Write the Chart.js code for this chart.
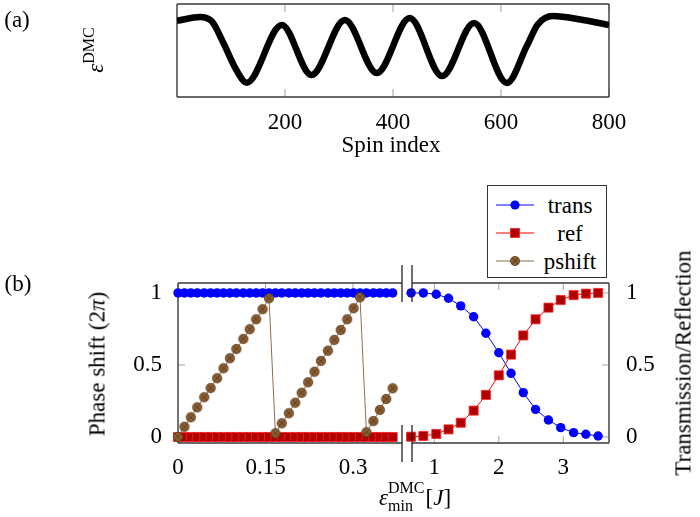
<!DOCTYPE html>
<html>
<head>
<meta charset="utf-8">
<script src="https://cdn.jsdelivr.net/npm/chart.js@4.4.1/dist/chart.umd.min.js"></script>
<style>
  body { margin: 0; background: #fff; }
  #wrap { position: relative; width: 700px; height: 517px; background: #fff; overflow: hidden; }
  #wrap canvas { position: absolute; left: 0; top: 0; }
  .t { position: absolute; transform: translate(-50%, -50%); white-space: nowrap;
       font-family: 'Liberation Serif', 'DejaVu Serif', 'Noto Serif', 'Times New Roman', serif;
       font-size: 23px; color: #000; line-height: 1; }
  .rot { transform: translate(-50%, -50%) rotate(-90deg); }
  .sup { font-size: 16px; position: relative; top: -9px; }
  .stack { display: inline-flex; flex-direction: column; font-size: 16px; line-height: 18px;
           vertical-align: middle; position: relative; top: -3px; margin-right: 1px; }
  #legend { position: absolute; left: 487px; top: 185px; width: 120px; height: 93px;
            border: 1.3px solid #333; background: #fff; box-sizing: border-box; }
  .row { position: absolute; left: 0; width: 120px; height: 28px; }
  .row svg { position: absolute; left: 7px; top: 4px; }
  .row span { position: absolute; left: 52px; width: 60px; text-align: center; top: 2px;
              font-family: 'Liberation Serif', 'DejaVu Serif', 'Noto Serif', 'Times New Roman', serif;
              font-size: 23px; }
</style>
</head>
<body>
<div id="wrap">
  <canvas id="chartA" width="700" height="517"></canvas>
  <canvas id="chartBL" width="700" height="517"></canvas>
  <canvas id="chartBR" width="700" height="517"></canvas>

  <div class="t" style="left:17px;top:19px">(a)</div>
  <div class="t rot" style="left:95px;top:50px"><i>ε</i><span class="sup">DMC</span></div>
  <div class="t" style="left:391px;top:144px">Spin index</div>

  <div class="t" style="left:18px;top:283px">(b)</div>
  <div class="t rot" style="left:97px;top:364px">Phase shift (2<i>π</i>)</div>
  <div class="t rot" style="left:683px;top:363px">Transmission/Reflection</div>
  <div class="t" style="left:415px;top:500px"><i>ε</i><span class="stack"><span>DMC</span><span>min</span></span>[<i>J</i>]</div>

  <div id="legend">
    <div class="row" style="top:5px">
      <svg width="40" height="20"><line x1="1" y1="10" x2="39" y2="10" stroke="#0000ff" stroke-width="1.2"/><circle cx="20" cy="10" r="4.6" fill="#0000ff"/></svg>
      <span>trans</span>
    </div>
    <div class="row" style="top:33px">
      <svg width="40" height="20"><line x1="1" y1="10" x2="39" y2="10" stroke="#ff0000" stroke-width="1.2"/><rect x="15.5" y="5.5" width="9" height="9" fill="#b00000" stroke="#ff2020" stroke-width="0.8"/></svg>
      <span>ref</span>
    </div>
    <div class="row" style="top:61px">
      <svg width="40" height="20"><line x1="1" y1="10" x2="39" y2="10" stroke="#8b6d4c" stroke-width="1.2"/><circle cx="20" cy="10" r="4.6" fill="#8a5d33" stroke="#5a3b1c" stroke-width="0.8"/><path d="M16.8 6.8 L23.2 13.2 M23.2 6.8 L16.8 13.2" stroke="#5a3b1c" stroke-width="0.8"/></svg>
      <span>pshift</span>
    </div>
  </div>
</div>

<script>
// panel (a): DMC profile along the chain
const spinIndex = [0, 43, 65, 86, 110, 129, 194, 249, 311, 370, 431, 491, 550, 611, 648, 668, 696, 752, 800];
const epsDmc    = [0.82, 0.86, 0.81, 0.58, 0.29, 0.154, 0.774, 0.237, 0.828, 0.258, 0.849, 0.226, 0.796, 0.151, 0.55, 0.78, 0.871, 0.828, 0.774];
const spinTicks = [200, 400, 600, 800];

// panel (b), left part (small eps)
const epsLeft = [0, 0.011, 0.022, 0.033, 0.045, 0.056, 0.067, 0.078, 0.089, 0.100, 0.112, 0.123,
  0.134, 0.145, 0.156, 0.167, 0.178, 0.190, 0.201, 0.212, 0.223, 0.234, 0.245, 0.257, 0.268,
  0.279, 0.290, 0.301, 0.312, 0.323, 0.335, 0.346, 0.357, 0.368];
const transLeft = [1, 1, 1, 1, 1, 1, 1, 1, 1, 1, 1, 1, 1, 1, 1, 1, 1, 1, 1, 1, 1, 1, 1, 1, 1, 1, 1, 1, 1, 1, 1, 1, 1, 1];
const refLeft   = [0, 0, 0, 0, 0, 0, 0, 0, 0, 0, 0, 0, 0, 0, 0, 0, 0, 0, 0, 0, 0, 0, 0, 0, 0, 0, 0, 0, 0, 0, 0, 0, 0, 0];
const pshift = [0, 0.071, 0.137, 0.206, 0.276, 0.340, 0.408, 0.477, 0.547, 0.611, 0.681, 0.748,
  0.817, 0.887, 0.963, 0.026, 0.095, 0.165, 0.238, 0.307, 0.380, 0.453, 0.528, 0.599, 0.674,
  0.743, 0.817, 0.894, 0.970, 0.033, 0.111, 0.188, 0.264, 0.338];
const epsLeftTicks = [0, 0.15, 0.3];

// panel (b), right part (large eps)
const epsRight   = [0.64, 0.83, 1.03, 1.22, 1.41, 1.61, 1.80, 2.00, 2.19, 2.38, 2.57, 2.77, 2.96, 3.16, 3.35, 3.54];
const transRight = [1.0, 1.0, 0.991, 0.963, 0.910, 0.835, 0.72, 0.585, 0.442, 0.308, 0.192, 0.118, 0.065, 0.030, 0.019, 0.007];
const refRight   = [0.002, 0.007, 0.021, 0.053, 0.099, 0.183, 0.292, 0.428, 0.572, 0.705, 0.817, 0.898, 0.951, 0.985, 0.995, 1.0];
const epsRightTicks = [1, 2, 3];
const yTicks = [0, 0.5, 1];

const tickFont = { family: "'Liberation Serif', 'DejaVu Serif', 'Noto Serif', 'Times New Roman', serif", size: 23 };

function pts(xs, ys) {
  return xs.map((x, i) => ({ x: x, y: ys[i] }));
}

// circle with a cross inside (pgfplots otimes*)
function otimes(r) {
  const c = document.createElement('canvas');
  const s = Math.ceil(2 * r + 2);
  c.width = c.height = s;
  const g = c.getContext('2d');
  const m = s / 2, d = r * 0.7071;
  g.beginPath(); g.arc(m, m, r, 0, 2 * Math.PI);
  g.fillStyle = '#8a5d33'; g.fill();
  g.lineWidth = 0.8; g.strokeStyle = '#5a3b1c'; g.stroke();
  g.beginPath();
  g.moveTo(m - d, m - d); g.lineTo(m + d, m + d);
  g.moveTo(m + d, m - d); g.lineTo(m - d, m + d);
  g.stroke();
  return c;
}

// axis box, inner ticks and break marks
const framePlugin = {
  id: 'frame',
  beforeDatasetsDraw(chart, args, opts) {
    const { ctx, chartArea: a } = chart;
    const xs = chart.scales.x, ys = chart.scales.y;
    ctx.save();
    ctx.strokeStyle = '#a0a0a0';
    ctx.lineWidth = 1;
    ctx.beginPath();
    xs.ticks.forEach(t => {
      const px = xs.getPixelForValue(t.value);
      ctx.moveTo(px, a.bottom); ctx.lineTo(px, a.bottom - opts.tick);
      ctx.moveTo(px, a.top); ctx.lineTo(px, a.top + opts.tick);
    });
    if (opts.yTicks) {
      ys.ticks.forEach(t => {
        const py = ys.getPixelForValue(t.value);
        if (opts.yTicks === 'left') { ctx.moveTo(a.left, py); ctx.lineTo(a.left + opts.tick, py); }
        else { ctx.moveTo(a.right, py); ctx.lineTo(a.right - opts.tick, py); }
      });
    }
    ctx.stroke();
    ctx.strokeStyle = '#3a3a3a';
    ctx.lineWidth = 1.4;
    ctx.beginPath();
    const s = opts.sides;
    if (s.includes('t')) { ctx.moveTo(a.left, a.top); ctx.lineTo(a.right, a.top); }
    if (s.includes('b')) { ctx.moveTo(a.left, a.bottom); ctx.lineTo(a.right, a.bottom); }
    if (s.includes('l')) { ctx.moveTo(a.left, a.top); ctx.lineTo(a.left, a.bottom); }
    if (s.includes('r')) { ctx.moveTo(a.right, a.top); ctx.lineTo(a.right, a.bottom); }
    ctx.stroke();
    ctx.restore();
  },
  afterDatasetsDraw(chart, args, opts) {
    if (!opts.brk) return;
    const { ctx, chartArea: a } = chart;
    const x = opts.brk === 'right' ? a.right : a.left;
    ctx.save();
    ctx.strokeStyle = '#222';
    ctx.lineWidth = 1.3;
    ctx.beginPath();
    ctx.moveTo(x, a.top - 18); ctx.lineTo(x, a.top + 19);
    ctx.moveTo(x, a.bottom - 18); ctx.lineTo(x, a.bottom + 19);
    ctx.stroke();
    ctx.restore();
  }
};

function xAxis(min, max, ticks, pad) {
  return {
    type: 'linear', min: min, max: max,
    grid: { display: false }, border: { display: false },
    afterBuildTicks: s => { s.ticks = ticks.map(v => ({ value: v })); },
    afterFit: s => { s.height = 40; },
    ticks: { font: tickFont, color: '#000', padding: pad, maxRotation: 0, callback: v => String(v) }
  };
}

function yAxis(pos, width, pad) {
  return {
    type: 'linear', position: pos, min: -0.0417, max: 1.069,
    grid: { display: false }, border: { display: false },
    afterBuildTicks: s => { s.ticks = yTicks.map(v => ({ value: v })); },
    afterFit: s => { s.width = width; },
    ticks: { font: tickFont, color: '#000', padding: pad, callback: v => String(v) }
  };
}

// panel (a)
new Chart(document.getElementById('chartA'), {
  type: 'line',
  data: {
    datasets: [{
      data: pts(spinIndex, epsDmc),
      borderColor: '#000', borderWidth: 6.5, pointRadius: 0,
      cubicInterpolationMode: 'monotone', clip: 0
    }]
  },
  options: {
    responsive: false, animation: false,
    layout: { padding: { left: 177, top: 4, right: 91, bottom: 380 } },
    plugins: { legend: { display: false }, tooltip: { enabled: false },
               frame: { sides: 'tblr', tick: 8 } },
    scales: {
      x: xAxis(0, 800, spinTicks, 4),
      y: { type: 'linear', min: 0, max: 1, display: false }
    }
  },
  plugins: [framePlugin]
});

const pshiftMark = otimes(4.7);

// panel (b) left
new Chart(document.getElementById('chartBL'), {
  type: 'line',
  data: {
    datasets: [
      { label: 'pshift', data: pts(epsLeft, pshift), order: 0, clip: false,
        borderColor: '#8b6d4c', borderWidth: 1, pointStyle: pshiftMark, pointRadius: 5 },
      { label: 'ref', data: pts(epsLeft, refLeft), order: 1, clip: false,
        borderColor: '#ff0000', borderWidth: 1, pointStyle: 'rect', pointRadius: 6.4,
        pointBackgroundColor: '#b00000', pointBorderColor: '#ff2020', pointBorderWidth: 0.8 },
      { label: 'trans', data: pts(epsLeft, transLeft), order: 2, clip: false,
        borderColor: '#0000ff', borderWidth: 1, pointStyle: 'circle', pointRadius: 4.7,
        pointBackgroundColor: '#0000ff', pointBorderColor: '#0000ff', pointBorderWidth: 0 }
    ]
  },
  options: {
    responsive: false, animation: false,
    layout: { padding: { left: 108, top: 283, right: 298, bottom: 34 } },
    plugins: { legend: { display: false }, tooltip: { enabled: false },
               frame: { sides: 'tbl', tick: 7, yTicks: 'left', brk: 'right' } },
    scales: {
      x: xAxis(0, 0.384, epsLeftTicks, 3),
      y: yAxis('left', 70, 8)
    }
  },
  plugins: [framePlugin]
});

// panel (b) right
new Chart(document.getElementById('chartBR'), {
  type: 'line',
  data: {
    datasets: [
      { label: 'ref', data: pts(epsRight, refRight), order: 1, clip: false,
        borderColor: '#ff0000', borderWidth: 1, pointStyle: 'rect', pointRadius: 6.4,
        pointBackgroundColor: '#b00000', pointBorderColor: '#ff2020', pointBorderWidth: 0.8 },
      { label: 'trans', data: pts(epsRight, transRight), order: 2, clip: false,
        borderColor: '#0000ff', borderWidth: 1, pointStyle: 'circle', pointRadius: 4.7,
        pointBackgroundColor: '#0000ff', pointBorderColor: '#0000ff', pointBorderWidth: 0 }
    ]
  },
  options: {
    responsive: false, animation: false,
    layout: { padding: { left: 412, top: 283, right: 31, bottom: 34 } },
    plugins: { legend: { display: false }, tooltip: { enabled: false },
               frame: { sides: 'tbr', tick: 7, yTicks: 'right', brk: 'left' } },
    scales: {
      x: xAxis(0.654, 3.709, epsRightTicks, 3),
      y: yAxis('right', 60, 9)
    }
  },
  plugins: [framePlugin]
});
</script>
</body>
</html>
